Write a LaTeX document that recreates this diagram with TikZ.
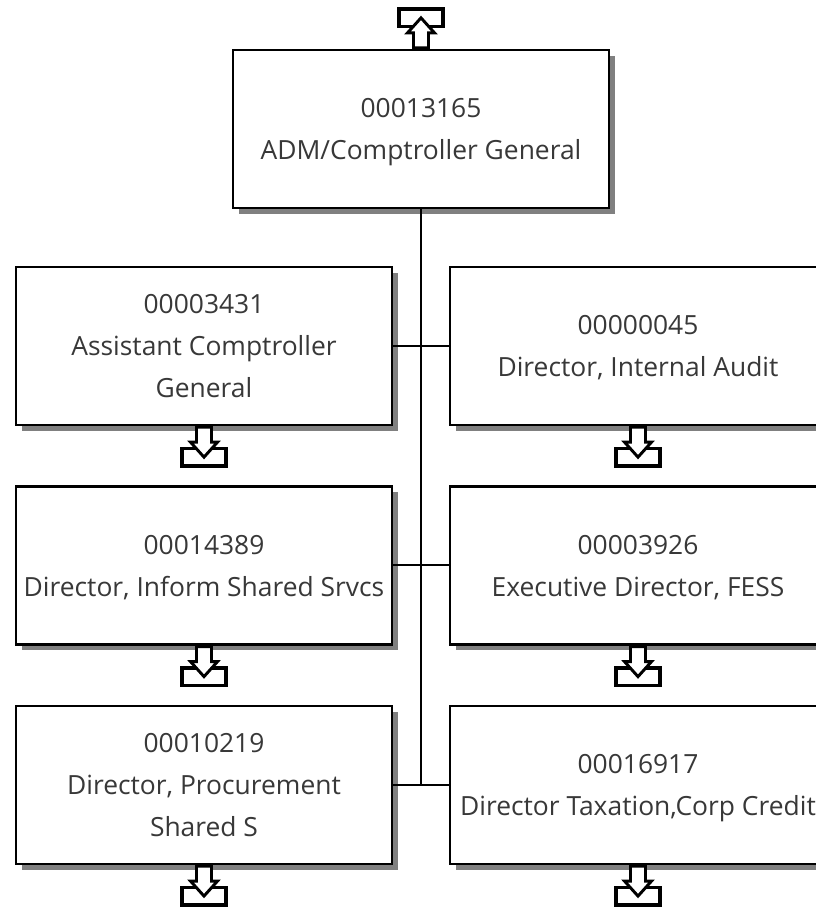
\documentclass[tikz,border=0pt]{standalone}
\usepackage{fontspec}
\setmainfont{Open Sans}
\usetikzlibrary{shadows}
\tikzset{>=latex}
\definecolor{shadowgray}{HTML}{808080}
\definecolor{inkgray}{HTML}{383838}
\tikzset{
  downicon/.pic={
    \draw[line width=2.5pt, fill=white] (-22,22.5) rectangle (22,40);
    \draw[line width=2.2pt, fill=white, line join=miter] (-7.5,1) -- (7.5,1) -- (7.5,16) -- (13.5,16) -- (0,31) -- (-13.5,16) -- (-7.5,16) -- cycle;
  }
}
\begin{document}
\begin{tikzpicture}[x=0.75pt, y=-0.75pt]
                        \useasboundingbox (0,0) rectangle (816,907);
                        \clip (0,0) rectangle (816,907);
                        \tikzstyle{every node}=[rectangle, draw=black, line width=1.7pt, fill=white,
                                minimum width=282pt, minimum height=118.5pt, inner sep=0pt, align=center,
                                text=inkgray, font=\fontsize{19.8}{31.5}\selectfont, text depth=-2.5pt,
                                drop shadow={shadow xshift=4.5pt, shadow yshift=-4.5pt, fill=shadowgray, opacity=1},
                                node distance=164.6pt]
                        \node (T) at (421, 129) {00013165\\ADM/Comptroller General};
                        \node (L1) at (204, 346) {00003431\\Assistant Comptroller\\General};
                        \node (R1) at (638, 346) {00000045\\Director, Internal Audit};
                        \node (L2) [below of = L1] {00014389\\Director, Inform Shared Srvcs};
                        \node (R2) [below of = R1] {00003926\\Executive Director, FESS};
                        \node (L3) [below of = L2] {00010219\\Director, Procurement\\Shared S};
                        \node (R3) [below of = R2] {00016917\\Director Taxation,Corp Credit};
                        \draw[line width=1.5pt] (T.south) -- (T.south |- L3.east);
                        \draw[line width=1.5pt] (L1.east) -- (R1.west);
                        \draw[line width=1.5pt] (L2.east) -- (R2.west);
                        \draw[line width=1.5pt] (L3.east) -- (R3.west);
                        \pic at (L1.south) {downicon};
                        \pic at (R1.south) {downicon};
                        \pic at (L2.south) {downicon};
                        \pic at (R2.south) {downicon};
                        \pic at (L3.south) {downicon};
                        \pic at (R3.south) {downicon};
                        \pic[yscale=-1] at (T.north) {downicon};
                \end{tikzpicture}
\end{document}
